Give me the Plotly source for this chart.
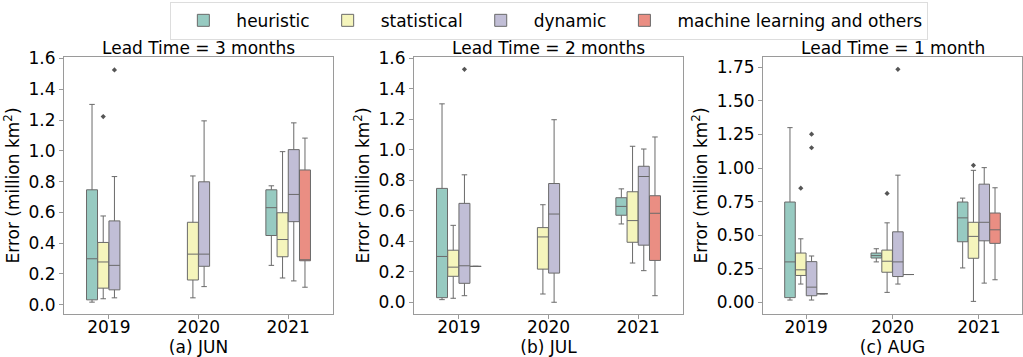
import plotly.graph_objects as go

# ---------------- data ----------------
years = ["2019", "2020", "2021"]
hues = ["heuristic", "statistical", "dynamic", "machine learning and others"]
panel_titles = ["Lead Time = 3 months", "Lead Time = 2 months", "Lead Time = 1 month"]
panel_xlabels = ["(a) JUN", "(b) JUL", "(c) AUG"]

# rows = hue (heuristic, statistical, dynamic, ML), cols = year (2019, 2020, 2021); None = no box
jun_lower = [[0.017, None, 0.256], [0.039, 0.045, 0.174], [0.045, 0.118, 0.155], [None, None, 0.114]]
jun_q1 = [[0.032, None, 0.450], [0.108, 0.161, 0.312], [0.097, 0.250, 0.540], [None, None, 0.286]]
jun_med = [[0.299, None, 0.631], [0.278, 0.329, 0.424], [0.256, 0.329, 0.717], [None, None, 0.287]]
jun_q3 = [[0.747, None, 0.747], [0.405, 0.536, 0.598], [0.545, 0.799, 1.008], [None, None, 0.876]]
jun_upper = [[1.302, None, 0.773], [0.577, 0.837, 0.995], [0.833, 1.195, 1.182], [None, None, 1.083]]
jun_outliers = [("statistical", "2019", 1.223), ("dynamic", "2019", 1.526)]

jul_lower = [[0.017, None, 0.513], [0.026, 0.054, 0.257], [0.043, 0.000, 0.207], [0.235, None, 0.043]]
jul_q1 = [[0.030, None, 0.570], [0.170, 0.217, 0.393], [0.124, 0.191, 0.374], [0.235, None, 0.274]]
jul_med = [[0.300, None, 0.628], [0.230, 0.428, 0.535], [0.239, 0.578, 0.824], [0.235, None, 0.583]]
jul_q3 = [[0.746, None, 0.685], [0.341, 0.489, 0.724], [0.648, 0.778, 0.891], [0.235, None, 0.698]]
jul_upper = [[1.300, None, 0.743], [0.504, 0.639, 1.022], [0.835, 1.196, 1.004], [0.235, None, 1.083]]
jul_outliers = [("dynamic", "2019", 1.526)]

aug_lower = [[0.017, 0.301, 0.256], [0.136, 0.074, 0.007], [0.017, 0.136, 0.143], [0.064, 0.207, 0.168]]
aug_q1 = [[0.035, 0.330, 0.451], [0.200, 0.224, 0.328], [0.049, 0.192, 0.458], [0.064, 0.207, 0.439]]
aug_med = [[0.301, 0.348, 0.629], [0.242, 0.306, 0.491], [0.113, 0.301, 0.596], [0.064, 0.207, 0.540]]
aug_q3 = [[0.747, 0.367, 0.747], [0.367, 0.389, 0.596], [0.303, 0.525, 0.880], [0.064, 0.207, 0.665]]
aug_upper = [[1.301, 0.399, 0.776], [0.473, 0.592, 0.983], [0.345, 0.947, 1.003], [0.064, 0.207, 0.853]]
aug_outliers = [("statistical", "2019", 0.850), ("dynamic", "2019", 1.252), ("dynamic", "2019", 1.151),
                ("statistical", "2020", 0.811), ("dynamic", "2020", 1.735), ("statistical", "2021", 1.020)]

y_ranges = [[-0.06, 1.61], [-0.077, 1.607], [-0.087, 1.827]]
y_ticks = [[0, 0.2, 0.4, 0.6, 0.8, 1.0, 1.2, 1.4, 1.6],
           [0, 0.2, 0.4, 0.6, 0.8, 1.0, 1.2, 1.4, 1.6],
           [0, 0.25, 0.5, 0.75, 1.0, 1.25, 1.5, 1.75]]
y_ticktext = [["0.0", "0.2", "0.4", "0.6", "0.8", "1.0", "1.2", "1.4", "1.6"],
              ["0.0", "0.2", "0.4", "0.6", "0.8", "1.0", "1.2", "1.4", "1.6"],
              ["0.00", "0.25", "0.50", "0.75", "1.00", "1.25", "1.50", "1.75"]]

# ---------------- style ----------------
fills = ["#97cac1", "#f5f5bc", "#c1bed6", "#ea8e83"]
edge = "#6a6a6a"
frame = "#9a9a9a"
FONT = "DejaVu Sans"
FS = 17
group_width = 0.5
slot = group_width / len(hues)
box_w = slot * 0.98

W, H = 1023, 357
x_px = [(64, 333), (414, 683), (763, 1022)]
y_px = (57, 314)

panels = [
    (jun_lower, jun_q1, jun_med, jun_q3, jun_upper, jun_outliers),
    (jul_lower, jul_q1, jul_med, jul_q3, jul_upper, jul_outliers),
    (aug_lower, aug_q1, aug_med, aug_q3, aug_upper, aug_outliers),
]

fig = go.Figure()

def pos(year_i, hue_i):
    return year_i + (hue_i - (len(hues) - 1) / 2) * slot

for p, (lo, q1, md, q3, up, outs) in enumerate(panels):
    xa = "x" if p == 0 else f"x{p+1}"
    ya = "y" if p == 0 else f"y{p+1}"
    for h, hue in enumerate(hues):
        xs, a, b, c, d, e = [], [], [], [], [], []
        for yi in range(len(years)):
            if md[h][yi] is None:
                continue
            xs.append(pos(yi, h))
            a.append(lo[h][yi]); b.append(q1[h][yi]); c.append(md[h][yi])
            d.append(q3[h][yi]); e.append(up[h][yi])
        fig.add_trace(go.Box(
            x=xs, lowerfence=a, q1=b, median=c, q3=d, upperfence=e,
            width=box_w, whiskerwidth=0.5, boxpoints=False,
            fillcolor=fills[h], line=dict(color=edge, width=1),
            name=hue, legendgroup=hue, showlegend=(p == 0),
            xaxis=xa, yaxis=ya, hoverinfo="skip",
        ))
    ox = [pos(years.index(yr), hues.index(hu)) for hu, yr, v in outs]
    oy = [v for hu, yr, v in outs]
    fig.add_trace(go.Scatter(
        x=ox, y=oy, mode="markers",
        marker=dict(symbol="diamond", size=4, color="#555555"),
        showlegend=False, xaxis=xa, yaxis=ya, hoverinfo="skip",
    ))

layout = dict(
    width=W, height=H,
    margin=dict(l=0, r=0, t=0, b=0),
    plot_bgcolor="white", paper_bgcolor="white",
    font=dict(family=FONT, size=FS, color="black"),
    legend=dict(
        orientation="h", x=0.537, y=0.995, xanchor="center", yanchor="top",
        bordercolor="#dddddd", borderwidth=1, font=dict(size=FS),
        itemwidth=56, tracegroupgap=0,
    ),
    annotations=[],
)

for p in range(3):
    xk = "xaxis" if p == 0 else f"xaxis{p+1}"
    yk = "yaxis" if p == 0 else f"yaxis{p+1}"
    x0, x1 = x_px[p]
    layout[xk] = dict(
        domain=[x0 / W, x1 / W], range=[-0.5, 2.5],
        tickvals=[0, 1, 2], ticktext=years,
        showline=True, mirror=True, linecolor=frame, linewidth=1,
        ticks="outside", ticklen=4, tickcolor=frame,
        showgrid=False, zeroline=False, anchor="y" if p == 0 else f"y{p+1}",
        title=dict(text=panel_xlabels[p], standoff=0, font=dict(size=FS)),
        tickfont=dict(size=FS), automargin=False, ticklabelstandoff=-6,
    )
    layout[yk] = dict(
        domain=[1 - y_px[1] / H, 1 - y_px[0] / H], range=y_ranges[p],
        tickvals=y_ticks[p], ticktext=y_ticktext[p],
        showline=True, mirror=True, linecolor=frame, linewidth=1,
        ticks="outside", ticklen=4, tickcolor=frame,
        showgrid=False, zeroline=False, anchor="x" if p == 0 else f"x{p+1}",
        title=dict(text="Error (million km<sup>2</sup>)", standoff=4, font=dict(size=FS)),
        tickfont=dict(size=FS), automargin=False,
    )
    layout["annotations"].append(dict(
        text=panel_titles[p], xref="paper", yref="paper",
        x=(x0 + x1) / 2 / W, y=1 - y_px[0] / H, xanchor="center", yanchor="bottom",
        showarrow=False, font=dict(size=FS), yshift=-3,
    ))

fig.update_layout(**layout)
fig.write_html("out.html", config={"displayModeBar": False},
               post_script="document.body.style.margin='0';document.body.style.padding='0';")
